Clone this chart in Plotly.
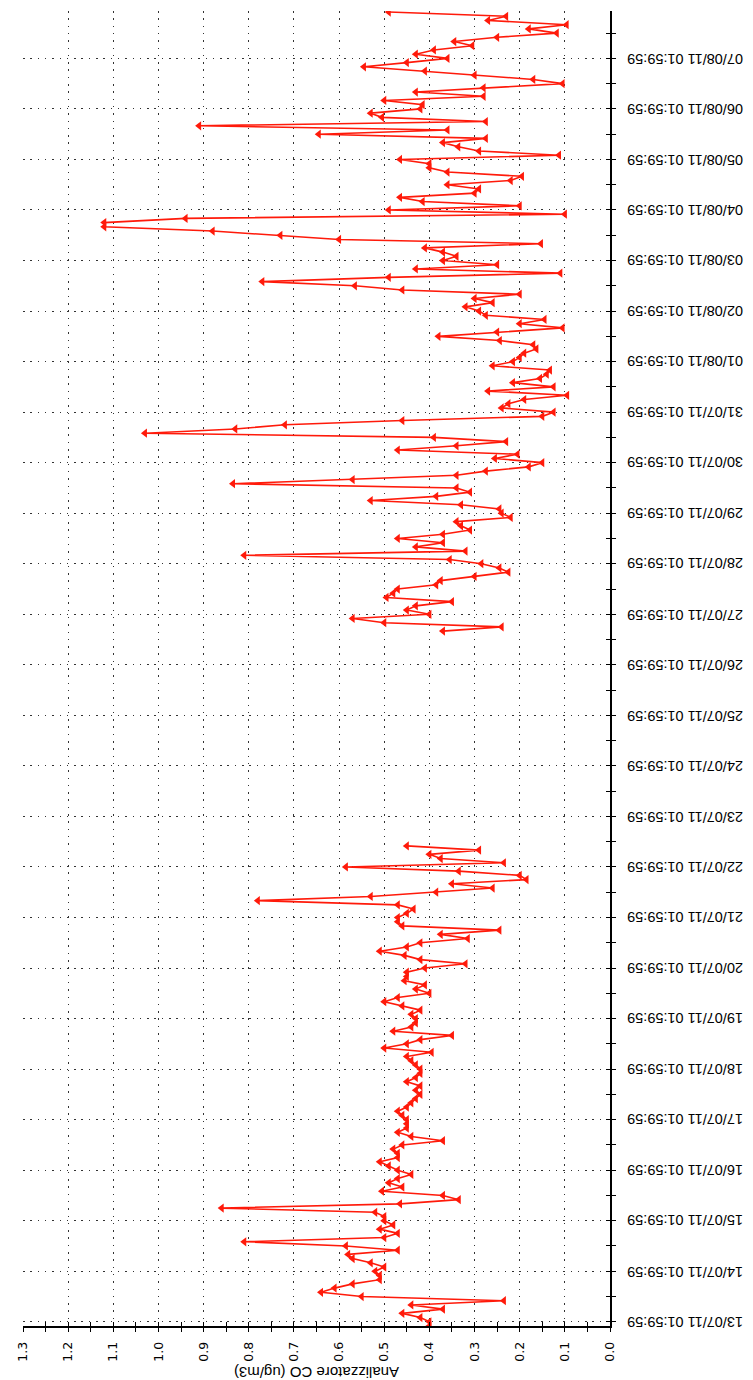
import plotly.graph_objects as go
from datetime import datetime, timedelta

# ---- data: CO analyser readings (ug/m3), one value every 2 hours, from 13/07/11 00:00 ----
START = datetime(2011, 7, 13, 0, 0)
STEP_HOURS = 2

co_13_07 = [0.40, 0.40, 0.42, 0.46, 0.37, 0.44, 0.235, 0.55, 0.64, 0.61, 0.57, 0.51]
co_14_07 = [0.51, 0.52, 0.50, 0.53, 0.57, 0.58, 0.47, 0.585, 0.81, 0.50, 0.47, 0.51]
co_15_07 = [0.48, 0.50, 0.50, 0.52, 0.86, 0.465, 0.335, 0.37, 0.505, 0.46, 0.49, 0.47]
co_16_07 = [0.44, 0.47, 0.49, 0.51, 0.47, 0.47, 0.48, 0.46, 0.37, 0.44, 0.47, 0.45]
co_17_07 = [0.45, 0.45, 0.46, 0.47, 0.45, 0.44, 0.43, 0.42, 0.43, 0.42, 0.45, 0.43]
co_18_07 = [0.42, 0.42, 0.43, 0.44, 0.45, 0.395, 0.50, 0.45, 0.42, 0.35, 0.48, 0.44]
co_19_07 = [0.43, 0.43, 0.44, 0.42, 0.46, 0.50, 0.47, 0.40, 0.43, 0.41, 0.455, 0.45]
co_20_07 = [0.45, 0.41, 0.32, 0.42, 0.455, 0.51, 0.45, 0.42, 0.315, 0.375, 0.245, 0.46]
co_21_07 = [0.47, 0.47, 0.45, 0.435, 0.47, 0.78, 0.53, 0.385, 0.26, 0.35, 0.185, 0.20]
co_22_07 = [0.335, 0.585, 0.235, 0.375, 0.40, 0.29, 0.45, None, None, None, None, None]
co_23_07 = [None] * 12
co_24_07 = [None] * 12
co_25_07 = [None] * 12
co_26_07 = [None, None, None, None, None, None, None, None, None, 0.37, 0.24, 0.50]
co_27_07 = [0.57, 0.40, 0.45, 0.43, 0.35, 0.495, 0.48, 0.47, 0.385, 0.375, 0.30, 0.225]
co_28_07 = [0.245, 0.285, 0.355, 0.81, 0.32, 0.43, 0.37, 0.47, 0.37, 0.31, 0.33, 0.34]
co_29_07 = [0.22, 0.24, 0.245, 0.33, 0.53, 0.385, 0.31, 0.34, 0.835, 0.57, 0.34, 0.275]
co_30_07 = [0.18, 0.15, 0.255, 0.205, 0.47, 0.34, 0.23, 0.39, 1.03, 0.83, 0.72, 0.46]
co_31_07 = [0.15, 0.125, 0.24, 0.225, 0.19, 0.095, 0.27, 0.125, 0.215, 0.155, 0.14, 0.133]
co_01_08 = [0.26, 0.215, 0.20, 0.19, 0.163, 0.17, 0.244, 0.38, 0.25, 0.105, 0.20, 0.145]
co_02_08 = [0.275, 0.29, 0.32, 0.26, 0.30, 0.20, 0.46, 0.565, 0.77, 0.49, 0.11, 0.43]
co_03_08 = [0.25, 0.37, 0.34, 0.37, 0.41, 0.153, 0.60, 0.73, 0.88, 1.12, 1.12, 0.94]
co_04_08 = [0.10, 0.49, 0.20, 0.415, 0.465, 0.30, 0.29, 0.36, 0.22, 0.195, 0.36, 0.40]
co_05_08 = [0.40, 0.465, 0.113, 0.29, 0.336, 0.37, 0.275, 0.645, 0.36, 0.91, 0.275, 0.505]
co_06_08 = [0.53, 0.42, 0.415, 0.50, 0.28, 0.43, 0.28, 0.105, 0.17, 0.30, 0.41, 0.545]
co_07_08 = [0.45, 0.36, 0.43, 0.39, 0.305, 0.345, 0.25, 0.118, 0.18, 0.096, 0.27, 0.23]
co_08_08 = [0.49]

DAYS = [co_13_07, co_14_07, co_15_07, co_16_07, co_17_07, co_18_07, co_19_07,
        co_20_07, co_21_07, co_22_07, co_23_07, co_24_07, co_25_07, co_26_07,
        co_27_07, co_28_07, co_29_07, co_30_07, co_31_07, co_01_08, co_02_08,
        co_03_08, co_04_08, co_05_08, co_06_08, co_07_08, co_08_08]

TICK_LABELS = [
    "13/07/11 01:59:59", "14/07/11 01:59:59", "15/07/11 01:59:59", "16/07/11 01:59:59",
    "17/07/11 01:59:59", "18/07/11 01:59:59", "19/07/11 01:59:59", "20/07/11 01:59:59",
    "21/07/11 01:59:59", "22/07/11 01:59:59", "23/07/11 01:59:59", "24/07/11 01:59:59",
    "25/07/11 01:59:59", "26/07/11 01:59:59", "27/07/11 01:59:59", "28/07/11 01:59:59",
    "29/07/11 01:59:59", "30/07/11 01:59:59", "31/07/11 01:59:59", "01/08/11 01:59:59",
    "02/08/11 01:59:59", "03/08/11 01:59:59", "04/08/11 01:59:59", "05/08/11 01:59:59",
    "06/08/11 01:59:59", "07/08/11 01:59:59",
]
AXIS_TITLE = "Analizzatore CO (ug/m3)"
VALUE_RANGE = [1.3, 0.0]
TIME_RANGE = ["2011-07-13 00:00:00", "2011-08-08 00:30:00"]

values = [v for day in DAYS for v in day]
times = [START + timedelta(hours=STEP_HOURS * i) for i in range(len(values))]
tick_times = [datetime.strptime(s, "%d/%m/%y %H:%M:%S") for s in TICK_LABELS]

RED = "#ff1a0a"
GRID = "#333333"
DOTS = "1.5px,5.8px"
FONT = "DejaVu Sans"
LABEL_FONT = "Liberation Sans"

W, H = 753, 1380
ML, MR, MT, MB = 15, 151, 3, 62
PW = W - ML - MR
PH = H - MT - MB

fig = go.Figure()
fig.add_trace(go.Scatter(
    x=values, y=times, mode="lines+markers", connectgaps=False,
    line=dict(color=RED, width=1.6),
    marker=dict(symbol="triangle-left", size=8, color=RED, line=dict(width=0)),
    showlegend=False, hoverinfo="skip",
))
# empty traces to bring the overlay axes (inner halves of the cross ticks) to life
fig.add_trace(go.Scatter(x=[], y=[], xaxis="x2", yaxis="y", showlegend=False))
fig.add_trace(go.Scatter(x=[], y=[], xaxis="x", yaxis="y2", showlegend=False))

tick0_day = "2011-07-13 01:59:59"
DAY_MS = 86400000

fig.update_layout(
    width=W, height=H,
    margin=dict(l=ML, r=MR, t=MT, b=MB),
    paper_bgcolor="white", plot_bgcolor="white",
    xaxis=dict(
        range=VALUE_RANGE, tick0=0, dtick=0.1, tickformat=".1f",
        tickangle=-90, ticks="outside", ticklen=4, tickwidth=1.2, tickcolor="black",
        ticklabelstandoff=5,
        tickfont=dict(family=FONT, size=12.5, color="black"),
        showline=True, linecolor="black", linewidth=1.6, zeroline=False,
        showgrid=True, gridcolor=GRID, gridwidth=1.2, griddash=DOTS,
        minor=dict(dtick=0.05, tick0=0, ticks="outside", ticklen=4, tickwidth=1.2,
                   tickcolor="black", showgrid=False),
        anchor="y",
    ),
    xaxis2=dict(
        range=VALUE_RANGE, overlaying="x", anchor="y", side="bottom",
        tick0=0, dtick=0.1, ticks="inside", ticklen=4, tickwidth=1.2, tickcolor="black",
        showticklabels=False, showline=False, showgrid=False, zeroline=False,
        minor=dict(dtick=0.05, tick0=0, ticks="inside", ticklen=4, tickwidth=1.2,
                   tickcolor="black", showgrid=False),
    ),
    yaxis=dict(
        type="date", range=TIME_RANGE, side="right", anchor="x",
        tick0=tick0_day, dtick=DAY_MS, ticks="outside", ticklen=4, tickwidth=1.2,
        tickcolor="black", showticklabels=False,
        showline=True, linecolor="black", linewidth=2, zeroline=False,
        showgrid=True, gridcolor=GRID, gridwidth=1.2, griddash=DOTS,
        minor=dict(tick0=tick0_day, dtick=DAY_MS // 2, ticks="outside", ticklen=4,
                   tickwidth=1.2, tickcolor="black", showgrid=False),
    ),
    yaxis2=dict(
        type="date", range=TIME_RANGE, side="right", anchor="x", overlaying="y",
        tick0=tick0_day, dtick=DAY_MS, ticks="inside", ticklen=4, tickwidth=1.2,
        tickcolor="black", showticklabels=False, showline=False, showgrid=False,
        zeroline=False,
        minor=dict(tick0=tick0_day, dtick=DAY_MS // 2, ticks="inside", ticklen=4,
                   tickwidth=1.2, tickcolor="black", showgrid=False),
    ),
)

# upside-down date labels on the right of the time axis
label_cx = (677.0 - ML) / PW
for lab, t in zip(TICK_LABELS, tick_times):
    fig.add_annotation(
        x=label_cx, xref="paper", y=t, yref="y", text=lab, textangle=180,
        showarrow=False, xanchor="center", yanchor="middle",
        font=dict(family=LABEL_FONT, size=14.5, color="black"),
    )

# upside-down axis title under the value axis
fig.add_annotation(
    x=0.5, xref="paper", y=-(1364 - (H - MB)) / PH, yref="paper", text=AXIS_TITLE,
    textangle=180, showarrow=False, xanchor="center", yanchor="middle",
    font=dict(family=LABEL_FONT, size=15, color="black"),
)

fig.write_html("out.html")
